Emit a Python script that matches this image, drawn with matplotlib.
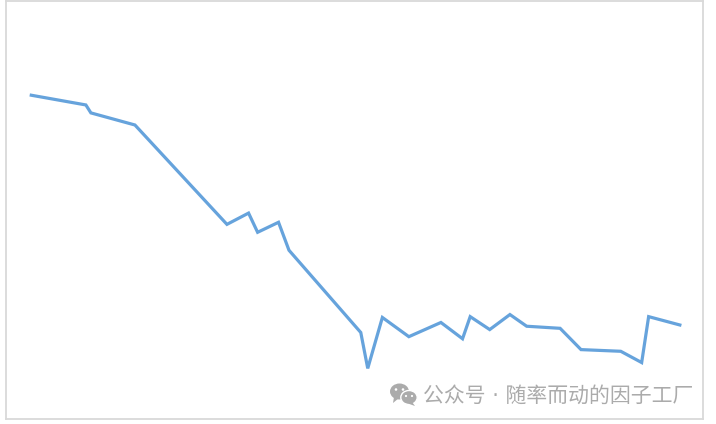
import matplotlib
matplotlib.use("Agg")
import matplotlib.pyplot as plt
from matplotlib.patches import Ellipse, Polygon

# Values (the original has no visible axes or labels)
periods = [3.4, 11.46, 12.18, 18.5, 31.7, 34.8, 36.1, 39.1, 40.6, 50.9, 51.9, 54.0, 57.8,
           62.4, 65.5, 66.6, 69.4, 72.3, 74.7, 79.5, 82.5, 88.2, 91.2, 92.2, 96.9]
values = [77.5, 75.1, 73.2, 70.3, 46.5, 49.2, 44.6, 47.0, 40.3, 20.6, 12.0, 24.2, 19.6,
          23.0, 19.1, 24.4, 21.3, 24.9, 22.1, 21.6, 16.5, 16.1, 13.4, 24.4, 22.3]
watermark = "公众号 · 随率而动的因子工厂"

W, H = 716, 424
fig = plt.figure(figsize=(W / 100, H / 100), dpi=100, facecolor="white")
ax = fig.add_axes([6 / W, 1 - 418.5 / H, 697 / W, 417.5 / H])
ax.plot(periods, values, color="#66A3DC", lw=2.3, solid_joinstyle="miter", solid_capstyle="butt")
ax.set_xlim(0, 100)
ax.set_ylim(0, 100)
ax.set_xticks([])
ax.set_yticks([])
for s in ax.spines.values():
    s.set_color("#d9d9d9")
    s.set_linewidth(1.3)

# Watermark: WeChat-style icon and caption, placed in pixel space of the figure
def px(x, y):
    return x / W, 1 - y / H

grey = "#ababab"
tf = fig.transFigure
def ell(x, y, rx, ry, fc, ec="none", lw=0, z=5):
    c = px(x, y)
    fig.add_artist(Ellipse(c, 2 * rx / W, 2 * ry / H, transform=tf, fc=fc, ec=ec, lw=lw, zorder=z))

ell(399.5, 391.5, 9.5, 8, grey)
fig.add_artist(Polygon([px(394, 397), px(393, 403), px(399, 398)], closed=True, transform=tf, fc=grey, ec="none", zorder=5))
ell(396, 389.5, 1.3, 1.3, "white", z=6)
ell(403, 389.5, 1.3, 1.3, "white", z=6)
ell(409, 397.5, 8.2, 7, grey, ec="white", lw=1.0, z=7)
fig.add_artist(Polygon([px(412, 402), px(415, 406), px(408, 403.5)], closed=True, transform=tf, fc=grey, ec="none", zorder=7))
ell(406, 396, 1.1, 1.1, "white", z=8)
ell(412, 396, 1.1, 1.1, "white", z=8)

x, y = px(423, 395.5)
fig.text(x, y, watermark, color=grey, fontsize=15, ha="left", va="center",
         family=["DejaVu Sans", "Noto Sans CJK SC"], zorder=9)

fig.savefig("out.png", dpi=100, facecolor="white")
